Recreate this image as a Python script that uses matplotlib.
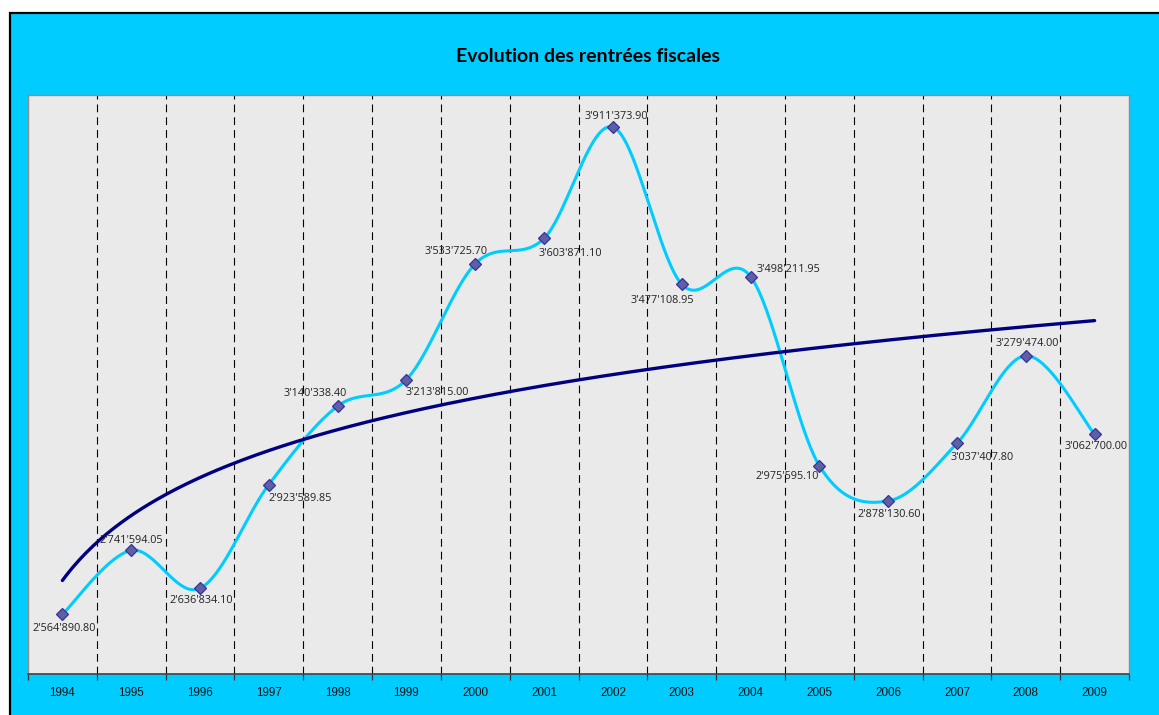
import numpy as np
import matplotlib
matplotlib.use("Agg")
import matplotlib.pyplot as plt
from matplotlib.patches import Rectangle

# ---- data ----
years = ["1994", "1995", "1996", "1997", "1998", "1999", "2000", "2001",
         "2002", "2003", "2004", "2005", "2006", "2007", "2008", "2009"]
revenues = [2564890.80, 2741594.05, 2636834.10, 2923589.85, 3140338.40,
            3213815.00, 3533725.70, 3603871.10, 3911373.90, 3477108.95,
            3498211.95, 2975595.10, 2878130.60, 3037407.80, 3279474.00,
            3062700.00]
title = "Evolution des rentrées fiscales"

# label offsets in pixels (dx, dy; dy positive = down)
label_offsets = [(2, 14), (0, -10), (1, 12), (31, 14), (-22, -13), (31, 13),
                 (-19, -12), (26, 15), (3, -11), (-19, 16), (38, -7),
                 (-32, 11), (1, 14), (25, 14), (1, -12), (1, 12)]

W, H = 1159, 715
DPI = 100
CYAN = "#00CCFF"
LINE = "#00CCFF"
TREND = "#000080"

fig = plt.figure(figsize=(W / DPI, H / DPI), dpi=DPI, facecolor="white")
# chart area frame
fig.patches.append(Rectangle((10 / W, -0.05), 1.2, (H - 13) / H + 0.05,
                             transform=fig.transFigure, facecolor=CYAN,
                             edgecolor="black", linewidth=1.6, zorder=-10))

ax = fig.add_axes([28 / W, 1 - 674 / H, (1129 - 28) / W, (674 - 95) / H])
ax.set_zorder(1)
ax.set_facecolor("#EAEAEA")

n = len(years)
x = np.arange(1, n + 1, dtype=float)
y = np.array(revenues)


def smooth_curve(xs, ys, steps=40):
    px, py = [], []
    m = len(xs)
    for i in range(m - 1):
        x0, y0 = xs[max(i - 1, 0)], ys[max(i - 1, 0)]
        x1, y1 = xs[i], ys[i]
        x2, y2 = xs[i + 1], ys[i + 1]
        x3, y3 = xs[min(i + 2, m - 1)], ys[min(i + 2, m - 1)]
        c1x, c1y = x1 + (x2 - x0) / 6, y1 + (y2 - y0) / 6
        c2x, c2y = x2 - (x3 - x1) / 6, y2 - (y3 - y1) / 6
        t = np.linspace(0, 1, steps)
        bx = (1 - t) ** 3 * x1 + 3 * (1 - t) ** 2 * t * c1x + 3 * (1 - t) * t ** 2 * c2x + t ** 3 * x2
        by = (1 - t) ** 3 * y1 + 3 * (1 - t) ** 2 * t * c1y + 3 * (1 - t) * t ** 2 * c2y + t ** 3 * y2
        px.extend(bx)
        py.extend(by)
    return np.array(px), np.array(py)


sx, sy = smooth_curve(x, y)
ax.plot(sx, sy, color=LINE, lw=2.2, zorder=3, solid_capstyle="round")

# logarithmic trendline
a, b = np.polyfit(np.log(x), y, 1)
tx = np.linspace(1, n, 300)
ax.plot(tx, a * np.log(tx) + b, color=TREND, lw=2.4, zorder=4,
        solid_capstyle="round")

ax.plot(x, y, linestyle="none", marker="D", markersize=5.8,
        markerfacecolor="#5F5FA6", markeredgecolor="#333399",
        markeredgewidth=0.9, zorder=5)

# gridlines at category boundaries
for bnd in np.arange(1.5, n, 1.0):
    ax.axvline(bnd, color="black", lw=0.8, ls=(0, (7, 4.5)), zorder=1)

ax.set_xlim(0.5, n + 0.5)
ax.set_ylim(2400000, 4000000)

ax.set_xticks(x)
ax.set_xticklabels(years, fontsize=8.4, family="Liberation Sans", color="#111111")
ax.set_xticks(np.arange(0.5, n + 1, 1.0), minor=True)
ax.tick_params(axis="x", which="major", length=0, pad=9)
ax.tick_params(axis="x", which="minor", length=4, width=0.9, color="#333333",
               direction="out")
ax.set_yticks([])

for side in ["left", "top", "right"]:
    ax.spines[side].set_color("#8C8C8C")
    ax.spines[side].set_linewidth(1.0)
ax.spines["bottom"].set_color("#404040")
ax.spines["bottom"].set_linewidth(1.2)

for xi, yi, (dx, dy) in zip(x, y, label_offsets):
    lbl = f"{yi:,.2f}".replace(",", "'")
    ax.annotate(lbl, (xi, yi), xytext=(dx * 72 / DPI, -dy * 72 / DPI),
                textcoords="offset points", ha="center", va="center",
                fontsize=7.8, family="Open Sans", color="#222222", zorder=6)

fig.text(588 / W, 1 - 57 / H, title, ha="center", va="center",
         fontsize=14, fontweight="bold", family="Lato", color="black")

fig.savefig("out.png", dpi=DPI, facecolor="white")
